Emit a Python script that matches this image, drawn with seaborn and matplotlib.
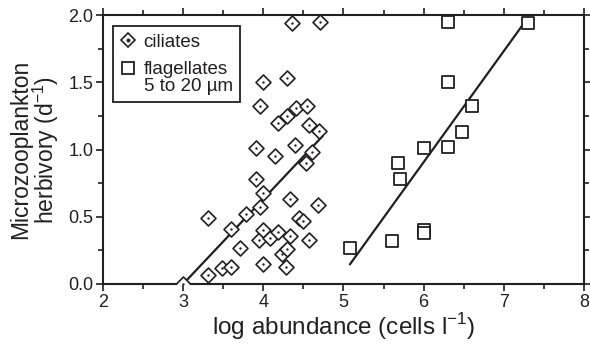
import numpy as np
import matplotlib
matplotlib.use("Agg")
import matplotlib.pyplot as plt
import seaborn as sns
from matplotlib.lines import Line2D
from matplotlib.ticker import MultipleLocator

# ---- data ----
cil_x = [3.00, 3.31, 3.48, 3.60, 3.31, 3.60, 3.71, 3.78, 3.91, 3.91, 3.95, 3.96,
         3.96, 4.00, 4.00, 4.00, 4.00, 4.08, 4.15, 4.18, 4.18, 4.23, 4.28, 4.30,
         4.30, 4.30, 4.33, 4.33, 4.36, 4.40, 4.41, 4.44, 4.50, 4.53, 4.54, 4.57,
         4.57, 4.61, 4.68, 4.69, 4.71]
cil_y = [0.00, 0.07, 0.12, 0.13, 0.49, 0.41, 0.27, 0.52, 0.78, 1.01, 0.33, 0.57,
         1.32, 0.68, 0.40, 0.15, 1.50, 0.34, 0.95, 1.20, 0.39, 0.22, 0.13, 0.26,
         1.25, 1.53, 0.63, 0.36, 1.94, 1.03, 1.31, 0.49, 0.47, 0.90, 1.32, 1.18,
         0.33, 0.98, 0.59, 1.14, 1.95]
flag_x = [5.08, 5.61, 5.68, 5.70, 6.00, 6.00, 6.00, 6.30, 6.30, 6.30, 6.48, 6.60, 7.30]
flag_y = [0.265, 0.32, 0.90, 0.78, 0.40, 0.38, 1.01, 1.02, 1.50, 1.95, 1.13, 1.32, 1.94]
cil_fit_x = [3.00, 4.74]
cil_fit_y = [0.00, 1.10]
flag_fit_x = [5.08, 7.30]
flag_fit_y = [0.146, 1.98]
x_ticks = [2, 3, 4, 5, 6, 7, 8]
y_ticks = [0.0, 0.5, 1.0, 1.5, 2.0]
y_tick_labels = ["0.0", "0.5", "1.0", "1.5", "2.0"]

INK = "#231f20"
sns.set_style("ticks")
plt.rcParams['font.family'] = ['Liberation Sans', 'DejaVu Sans']
plt.rcParams['text.color'] = INK
plt.rcParams['axes.labelcolor'] = INK
plt.rcParams['xtick.color'] = INK
plt.rcParams['ytick.color'] = INK
plt.rcParams['axes.edgecolor'] = INK
plt.rcParams['mathtext.fontset'] = 'custom'
plt.rcParams['mathtext.rm'] = 'Liberation Sans'

fig = plt.figure(figsize=(5.90, 3.46), dpi=100)
ax = fig.add_axes([103 / 590, 1 - 284 / 346, (584 - 103) / 590, (284 - 15) / 346])

# fit lines
sns.lineplot(x=cil_fit_x, y=cil_fit_y, color=INK, lw=1.6, ax=ax, zorder=2)
sns.lineplot(x=flag_fit_x, y=flag_fit_y, color=INK, lw=1.6, ax=ax, zorder=2)

# ciliates: diamonds with centre dot
sns.scatterplot(x=cil_x, y=cil_y, marker='D', s=58, facecolor='white',
                edgecolor=INK, linewidth=1.2, ax=ax, zorder=3, legend=False)
sns.scatterplot(x=cil_x, y=cil_y, marker='o', s=3, color=INK, edgecolor=INK,
                linewidth=0, ax=ax, zorder=4, legend=False)
# flagellates: open squares
sns.scatterplot(x=flag_x, y=flag_y, marker='s', s=64, facecolor='white',
                edgecolor=INK, linewidth=1.3, ax=ax, zorder=3, legend=False)

ax.set_xlim(2, 8)
ax.set_ylim(0, 2.0)
ax.set_xticks(x_ticks)
ax.set_yticks(y_ticks)
ax.set_yticklabels(y_tick_labels)
ax.xaxis.set_minor_locator(MultipleLocator(0.5))
ax.yaxis.set_minor_locator(MultipleLocator(0.25))
ax.tick_params(which='both', direction='out', top=True, right=True,
               width=1.2, labelsize=13, pad=2)
ax.tick_params(which='major', length=5)
ax.tick_params(which='minor', length=3.6)
for sp in ax.spines.values():
    sp.set_linewidth(1.5)
    sp.set_visible(True)

ax.set_xlabel("log abundance (cells l$^{-1}$)", fontsize=17.5, labelpad=0)
ax.set_ylabel("Microzooplankton\nherbivory (d$^{-1}$)", fontsize=16.5,
              labelpad=5, linespacing=0.95)

# legend
h_dia = Line2D([], [], marker='D', ls='none', markersize=7.6, mfc='white',
               mec=INK, mew=1.2)
h_dot = Line2D([], [], marker='o', ls='none', markersize=1.8, mfc=INK, mec=INK)
h_sq = Line2D([], [], marker='s', ls='none', markersize=8.0, mfc='white',
              mec=INK, mew=1.3)
leg = ax.legend([(h_dia, h_dot), h_sq], ["ciliates", "flagellates\n5 to 20 µm"],
                loc='upper left', bbox_to_anchor=(0.02, 0.959), fontsize=13.5,
                frameon=True, fancybox=False, edgecolor=INK, framealpha=1,
                handlelength=0.8, handletextpad=0.45, labelspacing=0.55,
                borderpad=0.4, borderaxespad=0)
leg.get_frame().set_linewidth(1.3)
for t in leg.get_texts():
    t.set_linespacing(1.0)
# move square marker up to the first text line
sq = leg.legend_handles[1]
sq.set_ydata(np.asarray(sq.get_ydata()) + 7.0)

fig.savefig("out.png", dpi=100)
